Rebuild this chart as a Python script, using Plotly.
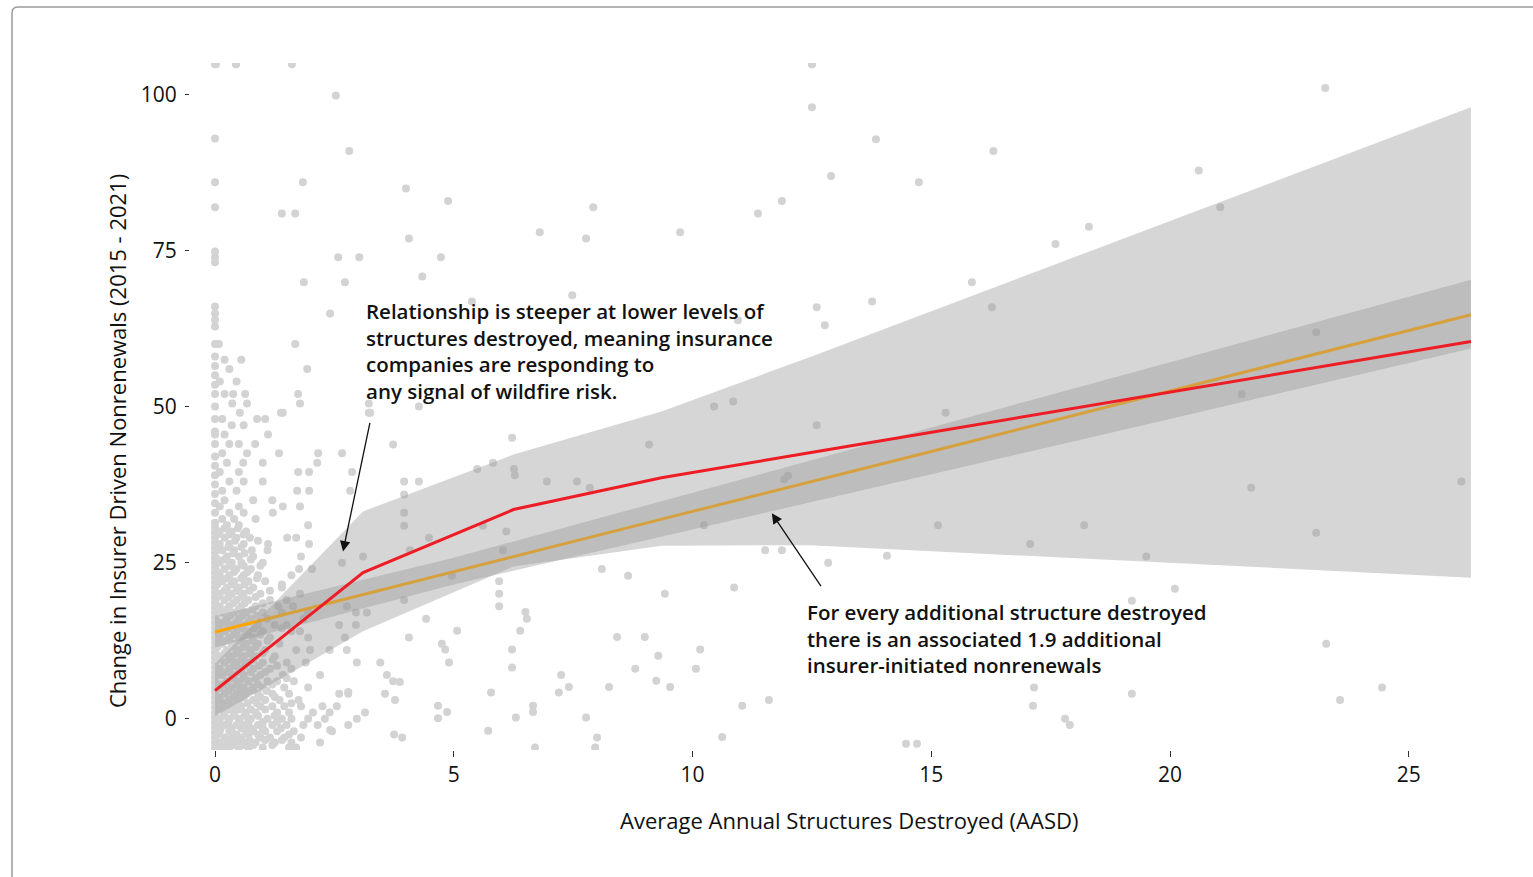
import plotly.graph_objects as go

# ---------------- data ----------------
# column of observations at AASD ~ 0
col0_y = [-4.6, -3.8, -3, -2.2, -1.4, -0.6, 0.2, 1, 1.8, 2.6, 3.4, 4.2, 5, 5.8, 6.6, 7.4,
          8.2, 9, 9.8, 10.6, 11.4, 12.2, 13, 13.8, 14.6, 15.4, 16.2, 17, 17.8, 18.6, 19.4,
          20.2, 21, 21.8, 22.6, 23.4, 24.2, 25, 25.8, 26.6, 27.4, 28.2, 29, 29.8, 30.6,
          31.4, 33, 34.5, 36, 37.5, 39, 40.5, 42, 44, 45.5, 46, 48, 50, 52, 53.5, 55, 56.5,
          58, 60, 62.8, 63.9, 64.9, 66, 73.1, 73.9, 74.8, 81.9, 85.9, 92.9, 104.8]

# dense cluster near AASD 0-3: one row per y level, x positions in that row
cluster_rows_y = [-4.6, -3.8, -3.0, -2.0, -1.0, 0.0, 1.0, 2.0, 3.0, 4.0, 5.0, 6.0, 7.0, 8.0,
                  9.0, 10.0, 11.0, 12.0, 13.0, 14.0, 15.0, 16.0, 17.0, 18.0, 19.0, 20.0,
                  21.0, 22.0, 23.0, 24.0, 25.0, 26.0, 27.0, 28.0, 29.0, 30.0, 31.0, 32.0,
                  33.0, 34.0, 35.0, 36.5, 38.0, 39.5, 41.0, 42.5, 44.0, 45.5, 47.0, 48.0,
                  49.0, 50.5, 52.0, 54.0, 56.0, 57.5, 60.0,
                  -4.2, -3.4, -2.5, -1.5, -0.5, 0.5, 1.5, 2.5, 3.5, 4.5, 5.5, 6.5, 7.5,
                  8.5, 9.5, 10.5, 11.5, 12.5, 13.5, 14.5, 15.5, 16.5, 17.5, 18.5, 19.5,
                  20.5, 21.5, 22.5, 23.5, 24.5, 25.5, 26.5, 27.5, 28.5, 29.5, 30.5]
cluster_rows_x = [
    [0.15, 0.3, 0.5, 0.7, 1.0, 1.55, 1.7],
    [0.1, 0.4, 0.6, 0.85, 1.25, 1.6, 2.2],
    [0.2, 0.35, 0.55, 0.95, 1.15, 1.45, 1.8, 3.92],
    [0.1, 0.3, 0.65, 0.8, 1.05, 1.3, 1.65, 2.45],
    [0.2, 0.45, 0.6, 0.9, 1.2, 1.5, 1.85, 2.15, 2.79],
    [0.1, 0.3, 0.5, 0.75, 1.1, 1.4, 1.6, 1.95, 2.3, 2.97],
    [0.2, 0.4, 0.65, 0.85, 1.3, 1.55, 2.05, 2.4, 3.14],
    [0.15, 0.35, 0.55, 0.95, 1.2, 1.45, 1.8, 2.25, 2.55],
    [0.1, 0.3, 0.5, 0.8, 1.05, 1.35, 1.75, 3.77],
    [0.2, 0.45, 0.65, 0.9, 1.2, 1.55, 2.6, 2.79, 3.56],
    [0.1, 0.35, 0.6, 0.8, 1.0, 1.45, 1.95],
    [0.25, 0.5, 0.7, 1.1, 1.3, 1.65, 3.73],
    [0.15, 0.4, 0.6, 0.95, 1.42, 2.2, 3.6],
    [0.1, 0.3, 0.55, 0.8, 1.15, 1.6],
    [0.2, 0.45, 0.7, 1.0, 1.5, 1.9, 2.97, 3.46],
    [0.1, 0.35, 0.6, 0.85, 1.25],
    [0.25, 0.5, 0.75, 1.05, 1.7, 2.4, 2.76, 1.99],
    [0.15, 0.4, 0.65, 0.9, 1.35],
    [0.1, 0.3, 0.55, 0.8, 1.15, 1.95, 2.72],
    [0.2, 0.45, 0.7, 1.0, 1.6, 1.78],
    [0.1, 0.35, 0.6, 0.9, 1.25, 1.5, 2.6, 2.95],
    [0.25, 0.5, 0.75, 1.1, 1.85],
    [0.15, 0.4, 0.65, 1.0, 1.4, 1.95, 2.95, 3.18],
    [0.1, 0.3, 0.55, 0.85, 1.32, 1.63, 2.76],
    [0.2, 0.45, 0.7, 1.15, 1.5],
    [0.1, 0.35, 0.6, 0.95, 1.78],
    [0.25, 0.5, 0.8, 1.4],
    [0.15, 0.4, 0.7, 1.05],
    [0.1, 0.3, 0.6, 0.9, 1.6],
    [0.2, 0.45, 0.75, 1.76, 2.03],
    [0.1, 0.35, 0.55, 1.0, 2.66],
    [0.25, 0.5, 0.8, 1.8, 3.1],
    [0.15, 0.4, 0.77, 1.1],
    [0.1, 0.3, 0.6, 1.11, 1.97],
    [0.2, 0.45, 0.73, 1.51, 1.7],
    [0.1, 0.35, 0.65],
    [0.25, 0.5, 1.95],
    [0.15, 0.4, 0.85],
    [0.3, 0.6, 1.21],
    [0.1, 0.5, 1.42, 1.78],
    [0.2, 0.8, 1.2],
    [0.15, 0.45, 1.72, 2.83, 1.97],
    [0.3, 0.6, 1.0],
    [0.1, 0.5, 1.74, 1.97, 2.87],
    [0.25, 0.59, 2.14, 1.0],
    [0.15, 0.67, 1.34, 2.16, 2.66],
    [0.3, 0.84, 0.5],
    [0.2, 1.11],
    [0.35, 0.6],
    [0.88, 1.05, 0.15],
    [0.52, 1.38, 1.42, 3.25],
    [0.36, 0.67, 1.78, 3.22],
    [0.38, 0.63, 0.2, 1.74],
    [0.1, 0.45],
    [0.3, 1.93],
    [0.2, 0.55],
    [0.08, 1.68],
    # half-step rows
    [0.05, 0.25, 0.42, 0.62, 0.8, 1.2],
    [0.28, 0.48, 0.72, 1.05, 1.4],
    [0.05, 0.45, 0.7, 0.9, 1.55],
    [0.12, 0.35, 0.55, 0.75, 1.0, 1.38],
    [0.05, 0.28, 0.52, 0.7, 1.0, 1.3],
    [0.18, 0.4, 0.62, 0.9, 1.25],
    [0.05, 0.3, 0.5, 0.75, 1.05],
    [0.22, 0.45, 0.68, 0.88, 1.6],
    [0.05, 0.38, 0.6, 0.95, 1.25],
    [0.28, 0.52, 0.75, 1.08],
    [0.05, 0.18, 0.45, 0.9, 1.2],
    [0.35, 0.6, 0.85, 1.5],
    [0.05, 0.25, 0.5, 0.75, 1.05],
    [0.4, 0.62, 0.92, 1.3],
    [0.05, 0.3, 0.55, 0.8, 1.21],
    [0.2, 0.45, 0.72, 1.0],
    [0.05, 0.35, 0.6, 0.85],
    [0.25, 0.5, 0.78, 1.1],
    [0.05, 0.4, 0.65, 0.95],
    [0.28, 0.55, 0.82, 1.4],
    [0.05, 0.2, 0.45, 0.7],
    [0.32, 0.58, 0.88],
    [0.05, 0.25, 0.5, 0.78],
    [0.38, 0.62, 1.0],
    [0.05, 0.28, 0.55, 0.85],
    [0.2, 0.45, 0.72, 1.15],
    [0.05, 0.35, 0.62, 1.4],
    [0.25, 0.55, 0.88],
    [0.05, 0.4, 0.68],
    [0.3, 0.6, 0.95],
    [0.05, 0.2, 0.75],
    [0.38, 0.62],
    [0.05, 0.28, 0.55],
    [0.42, 0.9],
    [0.05, 0.3, 0.6],
    [0.2, 0.48],
]

# scattered observations away from the cluster
sparse_x = [0.44, 1.61, 12.5, 2.53, 23.25, 12.5, 2.81, 13.84, 16.3, 20.6, 12.9, 14.74, 1.84,
            4.0, 4.88, 11.87, 21.05, 7.92, 11.37, 1.4, 1.68, 18.3, 6.8, 9.74, 7.77, 4.06,
            17.6, 2.58, 3.02, 4.73, 4.34, 15.85, 2.72, 1.86, 13.76, 5.38, 16.27, 12.6, 2.41,
            7.48, 10.95, 12.77, 23.06, 10.45, 10.85, 15.3, 21.5, 9.09, 3.73, 6.22, 5.49, 5.82,
            6.26, 6.28, 6.95, 7.58, 7.85, 26.1, 21.7, 3.96, 3.96, 3.96, 3.96, 4.08, 11.92, 12.0,
            12.6, 10.24, 15.14, 18.2, 23.06, 17.07, 11.52, 11.87, 12.84, 14.07, 19.5, 8.1,
            8.65, 9.42, 20.1, 19.2, 10.87, 23.27, 8.42, 9.0, 10.16, 9.28, 8.8, 10.07, 7.25,
            9.24, 8.25, 9.53, 17.15, 24.44, 19.2, 11.04, 17.13, 23.56, 17.8, 17.9, 7.77,
            10.62, 14.47, 14.7, 6.66, 6.66, 6.3, 5.72, 6.7, 7.96, 4.67, 4.86, 4.67, 5.78,
            7.41, 7.2, 5.95, 5.95, 5.95, 6.5, 6.53, 6.39, 6.22, 6.22, 4.96, 4.48, 3.96, 4.42,
            4.06, 5.07, 4.75, 4.82, 4.9, 3.87, 4.27, 5.61, 6.1, 6.03, 3.22, 2.79, 11.6,
            4.27, 0.02, 0.44, 12.5, 8.0, 3.75, 2.41]
sparse_y = [104.8, 104.8, 104.8, 99.8, 101.0, 97.9, 90.9, 92.8, 90.9, 87.8, 86.9, 85.9, 85.9,
            84.9, 82.9, 82.9, 81.9, 81.9, 80.9, 80.9, 80.9, 78.8, 77.9, 77.9, 76.9, 76.9,
            76.0, 73.9, 73.9, 73.9, 70.8, 69.9, 69.9, 69.9, 66.8, 66.8, 65.9, 65.9, 64.9,
            67.8, 63.8, 63.0, 61.9, 50.0, 50.8, 49.0, 52.0, 43.9, 43.9, 45.0, 40.0, 41.0,
            40.0, 39.0, 38.0, 38.0, 37.0, 38.0, 37.0, 38.0, 35.9, 33.0, 30.9, 27.0, 38.3, 38.9,
            47.0, 31.0, 31.0, 31.0, 29.8, 28.0, 27.0, 27.0, 25.0, 26.1, 26.0, 24.0,
            22.9, 20.0, 20.8, 18.9, 21.0, 12.0, 13.1, 13.1, 11.1, 10.1, 8.0, 8.0, 7.0,
            6.1, 5.1, 5.1, 5.0, 5.0, 4.0, 2.1, 2.1, 3.0, 0.0, -1.0, 0.2,
            -2.9, -4.0, -4.0, 2.1, 1.1, 0.2, -1.9, -4.6, -4.6, 2.1, 1.1, 0.1, 4.2,
            5.1, 4.2, 22.0, 20.0, 18.0, 17.1, 16.0, 14.1, 11.1, 8.2, 22.9, 29.0, 19.0, 16.0,
            13.0, 14.1, 12.0, 11.1, 9.0, 5.9, 50.0, 30.9, 30.0, 27.0, 49.0, 4.3, 3.0,
            38.0, 104.8, 104.8, 104.8, -3.0, -2.5, -1.8]

# linear fit (orange) with confidence band
lm_x = [0.0, 5.0, 10.0, 15.0, 20.0, 26.3]
lm_fit = [13.9, 23.6, 33.2, 42.8, 52.5, 64.7]
lm_lo = [11.4, 21.5, 30.3, 39.1, 48.0, 59.3]
lm_hi = [16.5, 25.8, 36.2, 46.6, 57.1, 70.3]

# segmented fit (red) with confidence band
seg_x = [0.0, 3.1, 6.25, 9.35, 12.45, 26.3]
seg_fit = [4.5, 23.4, 33.5, 38.6, 42.6, 60.4]
seg_lo = [0.4, 14.0, 24.4, 27.7, 27.8, 22.6]
seg_hi = [8.8, 33.2, 42.3, 49.2, 57.9, 97.9]

x_ticks = [0, 5, 10, 15, 20, 25]
y_ticks = [0, 25, 50, 75, 100]

# ---------------- build points ----------------
pts_x = [0.0] * len(col0_y) + [x for row in cluster_rows_x for x in row] + sparse_x
pts_y = list(col0_y) + [y for y, row in zip(cluster_rows_y, cluster_rows_x) for _ in row] + sparse_y

FONT = "Open Sans"
BAND = "rgba(153,153,153,0.4)"
TXT = "#111111"

fig = go.Figure()
fig.add_trace(go.Scatter(x=pts_x, y=pts_y, mode="markers",
                         marker=dict(size=8, color="#d3d3d3", line=dict(width=0)),
                         hoverinfo="skip", showlegend=False))
fig.add_trace(go.Scatter(x=lm_x + lm_x[::-1], y=lm_hi + lm_lo[::-1], fill="toself",
                         fillcolor=BAND, line=dict(width=0), mode="lines",
                         hoverinfo="skip", showlegend=False))
fig.add_trace(go.Scatter(x=lm_x, y=lm_fit, mode="lines",
                         line=dict(color="#FFA500", width=3), showlegend=False))
fig.add_trace(go.Scatter(x=seg_x + seg_x[::-1], y=seg_hi + seg_lo[::-1], fill="toself",
                         fillcolor=BAND, line=dict(width=0), mode="lines",
                         hoverinfo="skip", showlegend=False))
fig.add_trace(go.Scatter(x=seg_x, y=seg_fit, mode="lines",
                         line=dict(color="#EE1C25", width=3), showlegend=False))

L, R, T, B = 190, 53, 63, 127
W, H = 1533, 877
pw, ph = W - L - R, H - T - B

def px2paper(px, py):
    return (px - L) / pw, (H - B - py) / ph

x0, y0 = px2paper(12, 7)
x1, _ = px2paper(1545, 7)
_, yb = px2paper(12, 890)
rx, ry = 6 / pw, 6 / ph
border_path = (f"M {x0},{yb} L {x0},{y0 - ry} Q {x0},{y0} {x0 + rx},{y0} L {x1},{y0}")

xt_x, xt_y = px2paper(849, 820)
yt_x, yt_y = px2paper(117, 441)

fig.update_layout(
    width=W, height=H,
    margin=dict(l=L, r=R, t=T, b=B),
    paper_bgcolor="white", plot_bgcolor="white",
    font=dict(family=FONT, size=20, color=TXT),
    shapes=[dict(type="path", path=border_path, xref="paper", yref="paper",
                 line=dict(color="#9a9a9a", width=1.5), layer="above")],
    annotations=[
        dict(x=2.68, y=26.8, ax=3.25, ay=47.6, xref="x", yref="y", axref="x", ayref="y",
             text="", showarrow=True, arrowhead=2, arrowsize=1.6, arrowwidth=1.3,
             arrowcolor=TXT),
        dict(x=11.66, y=32.9, ax=12.71, ay=21.0, xref="x", yref="y", axref="x", ayref="y",
             text="", showarrow=True, arrowhead=2, arrowsize=1.6, arrowwidth=1.3,
             arrowcolor=TXT),
        dict(x=3.13, y=67.9, xref="x", yref="y", xanchor="left", yanchor="top",
             align="left", showarrow=False,
             text="Relationship is steeper at lower levels of<br>structures destroyed, meaning insurance<br>companies are responding to<br>any signal of wildfire risk.",
             font=dict(family=FONT, size=20.5, color=TXT, weight=600)),
        dict(x=12.35, y=19.6, xref="x", yref="y", xanchor="left", yanchor="top",
             align="left", showarrow=False,
             text="For every additional structure destroyed<br>there is an associated 1.9 additional<br>insurer-initiated nonrenewals",
             font=dict(family=FONT, size=20.5, color=TXT, weight=600)),
        dict(x=xt_x, y=xt_y, xref="paper", yref="paper", xanchor="center", yanchor="middle",
             showarrow=False, text="Average Annual Structures Destroyed (AASD)",
             font=dict(family=FONT, size=22, color=TXT)),
        dict(x=yt_x, y=yt_y, xref="paper", yref="paper", xanchor="center", yanchor="middle",
             showarrow=False, textangle=-90,
             text="Change in Insurer Driven Nonrenewals (2015 - 2021)",
             font=dict(family=FONT, size=22, color=TXT)),
    ],
)
fig.update_xaxes(range=[-0.524, 26.49], tickvals=x_ticks, showgrid=False, zeroline=False,
                 showline=False, ticks="outside", ticklen=6, tickwidth=1, tickcolor="#333333",
                 tickfont=dict(size=21, color=TXT))
fig.update_yaxes(range=[-5, 105], tickvals=y_ticks, showgrid=False, zeroline=False,
                 showline=False, ticks="outside", ticklen=4, tickwidth=1, tickcolor="#333333",
                 tickfont=dict(size=21, color=TXT), ticklabelstandoff=4)

fig.write_html("out.html", post_script="document.body.style.margin='0';",
               config={"displayModeBar": False})
